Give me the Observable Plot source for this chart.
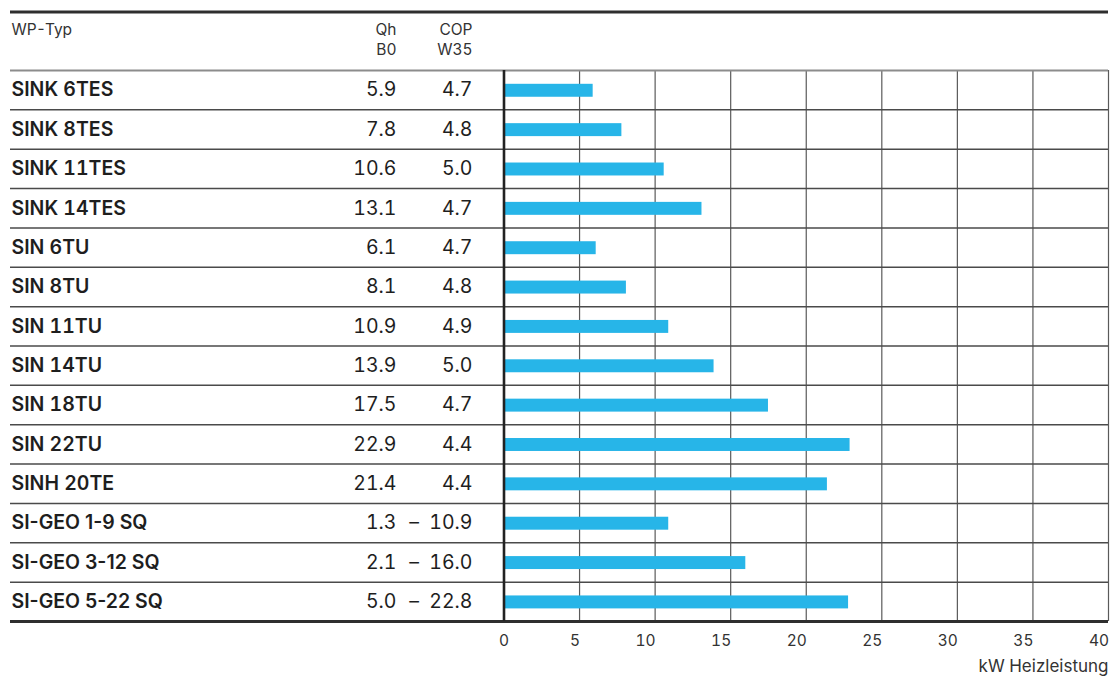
<!DOCTYPE html>
<html>
<head>
<meta charset="utf-8">
<script src="https://cdn.jsdelivr.net/npm/d3@7"></script>
<script src="https://cdn.jsdelivr.net/npm/@observablehq/plot@0.6"></script>
<style>
  html, body { margin: 0; padding: 0; background: #fff; }
  #chart svg { display: block; }
</style>
</head>
<body>
<div id="chart"></div>
<script>
const names = ["SINK 6TES","SINK 8TES","SINK 11TES","SINK 14TES","SIN 6TU","SIN 8TU","SIN 11TU","SIN 14TU","SIN 18TU","SIN 22TU","SINH 20TE","SI-GEO 1-9 SQ","SI-GEO 3-12 SQ","SI-GEO 5-22 SQ"];
const qhMax = [5.9,7.8,10.6,13.1,6.1,8.1,10.9,13.9,17.5,22.9,21.4,10.9,16.0,22.8];
const qhMin = [null,null,null,null,null,null,null,null,null,null,null,1.3,2.1,5.0];
const cop = [4.7,4.8,5.0,4.7,4.7,4.8,4.9,5.0,4.7,4.4,4.4,null,null,null];
const xTicks = [0,5,10,15,20,25,30,35,40];
const headerName = "WP-Typ";
const headerQh = ["Qh", "B0"];
const headerCop = ["COP", "W35"];
const xLabel = "kW Heizleistung";

const rows = names.map((name, i) => ({name, i, qh: qhMax[i], min: qhMin[i], cop: cop[i]}));
const isRange = d => d.min != null;
const hasHyphen = d => d.name.includes("-");

const W = 1111, H = 677;
const mL = 503.5, mR = 3, mT = 70, mB = 56;
const font = "Inter, 'Liberation Sans', Arial, sans-serif";
const textColor = "#1e1e1e";
const hdr = {fontSize: 15.5, fill: "#333", lineAnchor: "middle", fontVariant: "tabular-nums"};
const num = {fontSize: 19.5, fill: textColor, lineAnchor: "middle", frameAnchor: "left", fontVariant: "tabular-nums"};
const lbl = {fontSize: 19.5, fill: textColor, lineAnchor: "middle", frameAnchor: "left", fontWeight: 600, textAnchor: "start", dx: -(mL - 11)};

const chart = Plot.plot({
  width: W,
  height: H,
  marginLeft: mL,
  marginRight: mR,
  marginTop: mT,
  marginBottom: mB,
  style: {fontFamily: font, color: textColor, background: "#fff"},
  x: {domain: [0, 40], axis: null},
  y: {domain: [0, names.length], reverse: true, axis: null},
  marks: [
    // vertical gridlines
    Plot.ruleX(xTicks.slice(1), {stroke: "#5a5a5a", strokeWidth: 1.2}),
    // bars
    Plot.rectX(rows, {x1: 0, x2: "qh", y1: "i", y2: d => d.i + 1, insetTop: 13.8, insetBottom: 12.6, fill: "#27b5e8"}),
    // row separators
    Plot.ruleY(d3.range(1, names.length), {stroke: "#4a4a4a", strokeWidth: 1.5, insetLeft: -(mL - 10)}),
    // header bottom line
    Plot.ruleY([0], {stroke: "#8c8c8c", strokeWidth: 2.2, insetLeft: -(mL - 10)}),
    // top line
    Plot.ruleY([0], {dy: -58.5, stroke: "#2e2e2e", strokeWidth: 2.8, insetLeft: -(mL - 10)}),
    // bottom line
    Plot.ruleY([names.length], {stroke: "#2e2e2e", strokeWidth: 3, insetLeft: -(mL - 10)}),
    // zero axis line
    Plot.ruleX([0], {stroke: "#222", strokeWidth: 2.6}),
    // header texts
    Plot.text([headerName], {...hdr, frameAnchor: "top-left", dx: -(mL - 11), dy: -40, textAnchor: "start"}),
    Plot.text([headerQh[0]], {...hdr, frameAnchor: "top-left", dx: 396 - mL, dy: -40, textAnchor: "end"}),
    Plot.text([headerQh[1]], {...hdr, frameAnchor: "top-left", dx: 396 - mL, dy: -20.5, textAnchor: "end"}),
    Plot.text([headerCop[0]], {...hdr, frameAnchor: "top-left", dx: 472 - mL, dy: -40, textAnchor: "end"}),
    Plot.text([headerCop[1]], {...hdr, frameAnchor: "top-left", dx: 472 - mL, dy: -20.5, textAnchor: "end"}),
    // row labels
    Plot.text(rows.filter(d => !hasHyphen(d)), {...lbl, y: d => d.i + 0.5, text: "name", fontVariant: "tabular-nums"}),
    Plot.text(rows.filter(hasHyphen), {...lbl, y: d => d.i + 0.5, text: "name", letterSpacing: 0.3}),
    // Qh column (or min of range)
    Plot.text(rows, {...num, y: d => d.i + 0.5, text: d => (isRange(d) ? d.min : d.qh).toFixed(1), dx: 396 - mL, textAnchor: "end"}),
    // range dash
    Plot.text(rows.filter(isRange), {...num, y: d => d.i + 0.5, text: () => "–", dx: 413.5 - mL, textAnchor: "middle"}),
    // COP column (or max of range)
    Plot.text(rows, {...num, y: d => d.i + 0.5, text: d => (isRange(d) ? d.qh : d.cop).toFixed(1), dx: 472 - mL, textAnchor: "end"}),
    // x tick labels
    Plot.text(xTicks.slice(0, 1), {...hdr, x: d => d, text: d => String(d), frameAnchor: "bottom", dy: 20, textAnchor: "middle"}),
    Plot.text(xTicks.slice(1), {...hdr, x: d => d, text: d => String(d), frameAnchor: "bottom", dy: 20, dx: 0.5, textAnchor: "end"}),
    // x axis label
    Plot.text([xLabel], {...hdr, fontSize: 17, frameAnchor: "bottom-right", dy: 45, textAnchor: "end"})
  ]
});

document.getElementById("chart").appendChild(chart);
</script>
</body>
</html>
